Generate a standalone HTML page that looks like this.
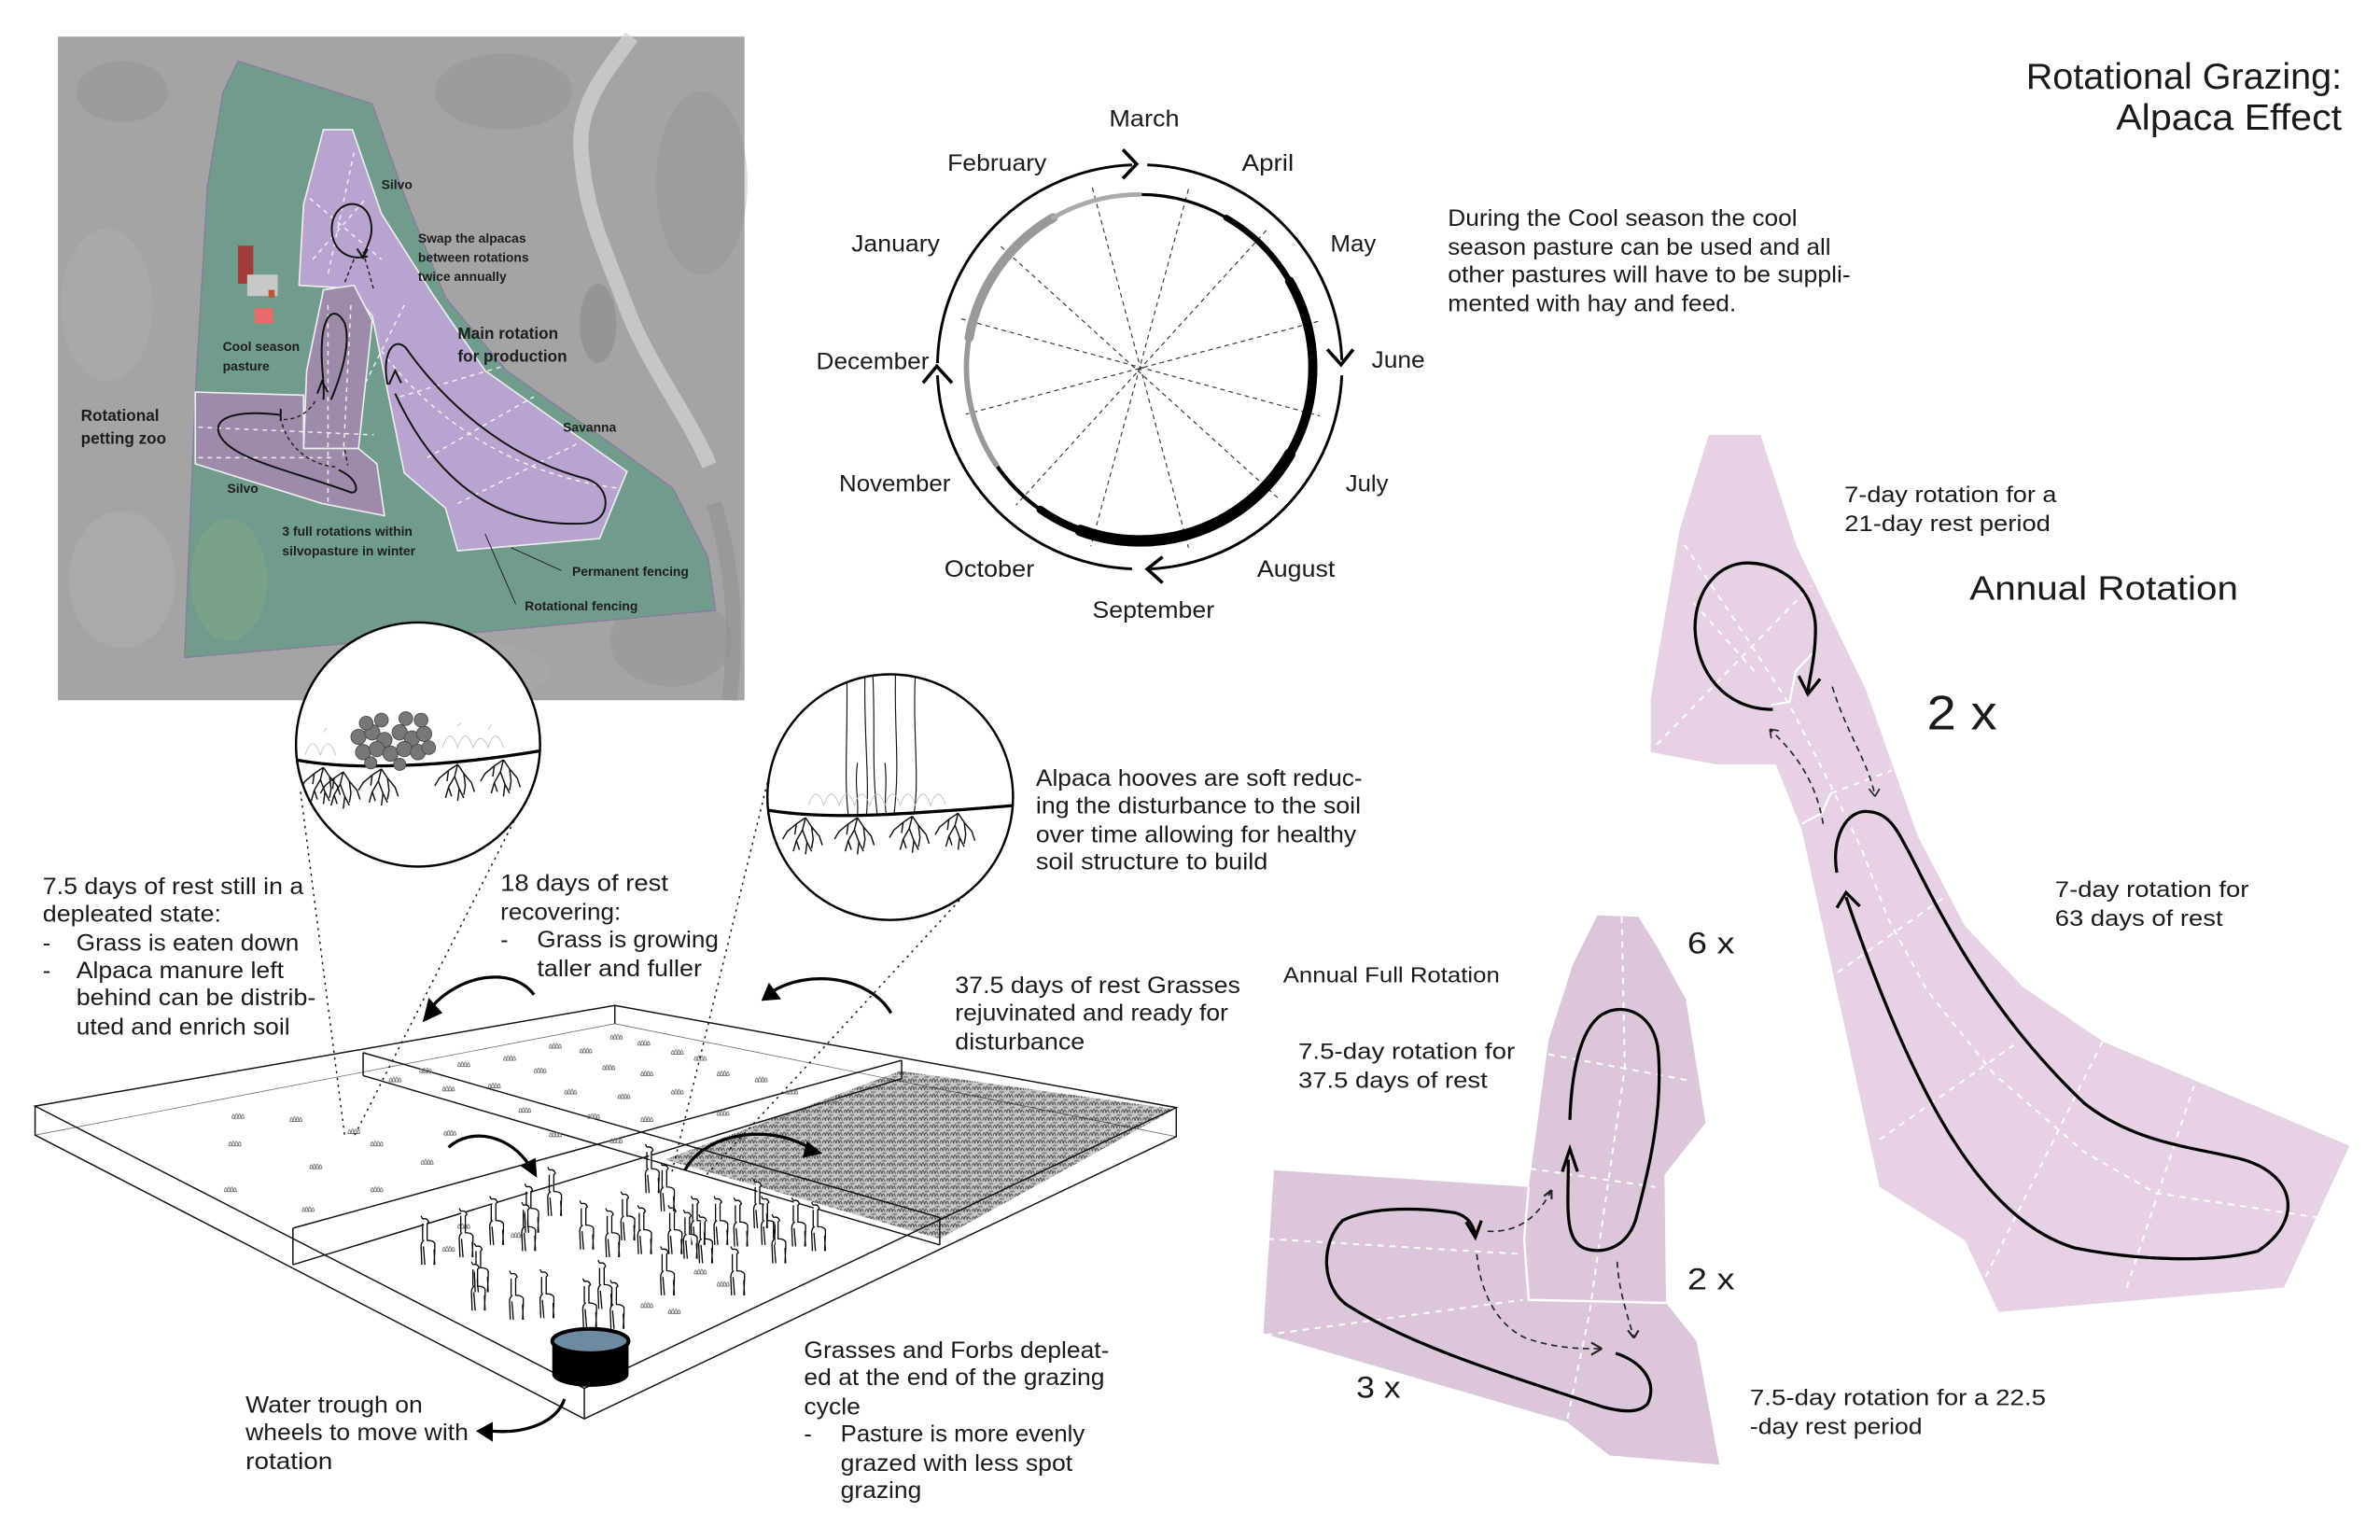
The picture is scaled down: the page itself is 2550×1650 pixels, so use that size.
<!DOCTYPE html>
<html><head><meta charset="utf-8"><style>
html,body{margin:0;padding:0;background:#fff;overflow:hidden}
svg{display:block}
.c{font-family:"Liberation Sans Narrow","Liberation Sans",sans-serif;font-size:15.5px;fill:#1a1a1a}
.r{font-family:"Liberation Sans",sans-serif;fill:#1a1a1a}
.m{font-family:"Liberation Sans",sans-serif;font-weight:bold;fill:#1d1d1d}
</style></head><body>
<svg width="2550" height="1650" viewBox="0 0 1560 1009.4" xmlns="http://www.w3.org/2000/svg">
<defs>
<g id="tf"><path d="M0 5 q1 -5 2 0 q1 -6 2 0 q1 -6 2 0 q1 -5 2 0 M0 5 h8" stroke="#777" fill="none" stroke-width="0.6"/></g>
<pattern id="dense" width="7" height="5" patternUnits="userSpaceOnUse"><rect width="7" height="5" fill="#c8c8c8"/><path d="M0 4.5 q1 -4 2 0 q1 -5 2 0 q1 -4 2 0" stroke="#444" fill="none" stroke-width="0.6"/><path d="M4 1.5 q1 -2 1.5 0 q1 -2 1.5 0" stroke="#666" fill="none" stroke-width="0.5"/></pattern>
<g id="al"><path d="M3 0 q3 -1 4 2 l-1 1 v11 q4 0 5 2 v4 l-0.5 10 M10.5 20 l0.5 10 M4 14 q-2 1 -2 4 l0.5 12 M3.5 18 l1 12 M3 0 l-1 -2 M3 3 v11" stroke="#000" stroke-width="0.8" fill="#fff"/></g>
<g id="rt"><path d="M0 0 L-2 8 L-6 15 L-8 22 M-2 8 L1 16 L0 24 M0 0 L4 6 L9 12 L11 18 M4 6 L5 14 L4 20 M0 0 L-6 4 L-12 9 L-15 14 M-6 4 L-7 11 M1 16 L4 22 M-6 15 L-4 21" stroke="#111" stroke-width="0.9" fill="none"/></g>
<clipPath id="c1"><circle cx="274" cy="488" r="80"/></clipPath>
<clipPath id="c2"><circle cx="583.5" cy="522.5" r="80.5"/></clipPath>
</defs>

<!-- AERIAL PHOTO -->
<rect x="38" y="24" width="450" height="435" fill="#a4a4a4"/>
<g opacity="0.3">
<ellipse cx="80" cy="60" rx="30" ry="20" fill="#8a8a8a"/>
<ellipse cx="330" cy="60" rx="45" ry="25" fill="#8c8c8c"/>
<ellipse cx="460" cy="120" rx="30" ry="60" fill="#8e8e8e"/>
<ellipse cx="70" cy="200" rx="30" ry="50" fill="#b6b6b6"/>
<ellipse cx="80" cy="380" rx="35" ry="45" fill="#b8b8b8"/>
<ellipse cx="440" cy="420" rx="40" ry="30" fill="#8c8c8c"/>
<ellipse cx="300" cy="440" rx="60" ry="20" fill="#b0b0b0"/>
</g>
<ellipse cx="392" cy="212" rx="12" ry="26" fill="#8c8c8c" opacity="0.6"/>
<path d="M414 24 C395 50 378 70 381 100 C384 140 395 160 410 200 C425 240 450 270 465 305" stroke="#d4d4d4" stroke-width="10" fill="none" opacity="0.7"/>
<path d="M468 330 C480 370 484 410 478 459" stroke="#8a8a8a" stroke-width="10" fill="none" opacity="0.4"/>
<polygon points="156,40 244,68 265,128 292,195 332,243 398,289 441,320 464,365 469,400 318,414 121,431 128,259 136,122 146,61" fill="#719c8c" stroke="#8a7aa0" stroke-width="0.8"/>
<ellipse cx="150" cy="380" rx="25" ry="40" fill="#8fa98a" opacity="0.4"/>
<rect x="156" y="161" width="10" height="25" fill="#a33a3a"/>
<rect x="162" y="180" width="20" height="14" fill="#c8c8c8"/>
<rect x="167" y="202" width="12" height="10" fill="#e86a6a"/>
<rect x="176" y="190" width="4" height="5" fill="#b53"/>
<polygon points="212,85 231,85 250,140 285,195 318,243 411,309 393,353 300,361 292,333 265,310 244,207 229,189 196,187 199,134" fill="#b9a3cf" stroke="#eee" stroke-width="1"/>
<polygon points="212,190 232,187 244,210 235,294 199,294 201,243" fill="#9e8ba9" stroke="#eee" stroke-width="1"/>
<polygon points="128,257 199,259 199,294 235,294 247,304 252,338 211,330 128,304" fill="#9e8ba9" stroke="#eee" stroke-width="1"/>
<g stroke="#fff" stroke-width="0.9" stroke-dasharray="3 3" fill="none" opacity="0.85">
<path d="M203 130 L250 170 M205 170 L240 130 M232 100 L215 180 M265 200 L240 250 M262 260 L330 240 M280 300 L350 260 M300 330 L380 290 M250 230 C280 270 330 310 405 320 M130 280 L245 285 M130 300 L220 300 M215 200 L215 330 M230 200 L225 300"/>
</g>
<g stroke="#111" stroke-width="1.2" fill="none">
<path d="M241 168 C225 172 215 160 218 145 C222 130 240 130 243 145 C245 155 241 160 238 168"/>
<path d="M234 163 l4 6 l3 -6"/>
<path d="M254 252 C250 232 258 220 266 228 C290 262 330 300 385 314 C402 320 400 342 384 343 C335 346 290 325 259 258"/>
<path d="M255 252 l4 -9 l4 8"/>
<path d="M217 262 C224 245 230 225 226 212 C220 200 212 205 211 225 C210 240 213 250 212 262"/>
<path d="M208 258 l3 -8 l4 7"/>
<path d="M184 272 C160 269 142 272 143 282 C146 300 190 308 228 322 C236 326 236 314 222 308"/>
<path d="M184 268 l0 8"/>
</g>
<g stroke="#222" stroke-width="0.9" stroke-dasharray="2.5 2" fill="none">
<path d="M186 275 C195 275 203 270 207 262"/>
<path d="M185 278 C190 295 205 305 220 306"/>
<path d="M226 295 L228 305 M238 165 L245 190 M232 170 L226 185"/>
</g>
<path d="M335 359 L368 374 M318 350 L338 396" stroke="#222" stroke-width="0.6"/>
<g class="m" font-size="8.5">
<text x="250" y="124">Silvo</text>
<text x="274" y="159">Swap the alpacas</text>
<text x="274" y="171.5">between rotations</text>
<text x="274" y="184">twice annually</text>
<text x="146" y="230">Cool season</text>
<text x="146" y="243">pasture</text>
<text x="369" y="283">Savanna</text>
<text x="149" y="323">Silvo</text>
<text x="185" y="351">3 full rotations within</text>
<text x="185" y="364">silvopasture in winter</text>
<text x="375" y="377.5">Permanent fencing</text>
<text x="344" y="400">Rotational fencing</text>
</g>
<g class="m" font-size="10.5">
<text x="300" y="222">Main rotation</text>
<text x="300" y="237">for production</text>
<text x="53" y="276">Rotational</text>
<text x="53" y="291">petting zoo</text>
</g>

<!-- TITLE -->
<text class="r" x="1535" y="58" font-size="24" text-anchor="end" textLength="207" lengthAdjust="spacingAndGlyphs">Rotational Grazing:</text>
<text class="r" x="1535" y="85" font-size="24" text-anchor="end" textLength="148" lengthAdjust="spacingAndGlyphs">Alpaca Effect</text>

<!-- CLOCK -->
<g stroke="#333" stroke-width="0.7" stroke-dasharray="3 2.5">
<path d="M716 123 L779 359 M779 124 L715 358 M656 161.5 L839 327.6 M830 151 L666 331 M630 209 L865 272.6 M864 210.6 L633 271.5"/>
</g>
<circle cx="747" cy="241" r="113.5" fill="none" stroke="#000" stroke-width="1"/>
<g fill="none" stroke-linecap="round">
<path d="M747 127.5 A113.5 113.5 0 0 1 803.8 142.7" stroke="#000" stroke-width="2"/>
<path d="M803.8 142.7 A113.5 113.5 0 0 1 845.3 184.3" stroke="#000" stroke-width="4"/>
<path d="M845.3 184.3 A113.5 113.5 0 0 1 845.3 297.8" stroke="#000" stroke-width="6"/>
<path d="M845.3 297.8 A113.5 113.5 0 0 1 708.2 347.7" stroke="#000" stroke-width="7.5"/>
<path d="M708.2 347.7 A113.5 113.5 0 0 1 681.9 334" stroke="#000" stroke-width="5"/>
<path d="M681.9 334 A113.5 113.5 0 0 1 652.9 304.5" stroke="#000" stroke-width="2.5"/>
<path d="M652.9 304.5 A113.5 113.5 0 0 1 635.2 221.3" stroke="#999" stroke-width="3.5"/>
<path d="M635.2 221.3 A113.5 113.5 0 0 1 690.3 142.7" stroke="#999" stroke-width="6"/>
<path d="M690.3 142.7 A113.5 113.5 0 0 1 747 127.5" stroke="#aaa" stroke-width="3"/>
</g>
<g fill="none" stroke="#000" stroke-width="1.8">
<path d="M614.5 238 A132.5 132.5 0 0 1 742 108.1"/>
<path d="M752 108.1 A132.5 132.5 0 0 1 879.5 236"/>
<path d="M879.5 246 A132.5 132.5 0 0 1 754 372.9"/>
<path d="M742 372.9 A132.5 132.5 0 0 1 614.5 246"/>
<path d="M736 98 L745 107.5 L736 117 M870 229 L879 239 L887 229 M762 365 L752 373 L762 382 M605 251 L614 240 L624 251" stroke-width="2.2"/>
</g>
<g class="c" font-size="15.5">
<text x="727" y="83" textLength="46" lengthAdjust="spacingAndGlyphs">March</text>
<text x="621" y="112" textLength="65" lengthAdjust="spacingAndGlyphs">February</text>
<text x="814" y="112" textLength="34" lengthAdjust="spacingAndGlyphs">April</text>
<text x="558" y="165" textLength="58" lengthAdjust="spacingAndGlyphs">January</text>
<text x="872" y="165" textLength="30" lengthAdjust="spacingAndGlyphs">May</text>
<text x="535" y="242" textLength="74" lengthAdjust="spacingAndGlyphs">December</text>
<text x="899" y="241" textLength="35" lengthAdjust="spacingAndGlyphs">June</text>
<text x="550" y="322" textLength="73" lengthAdjust="spacingAndGlyphs">November</text>
<text x="882" y="322" textLength="28" lengthAdjust="spacingAndGlyphs">July</text>
<text x="619" y="378" textLength="59" lengthAdjust="spacingAndGlyphs">October</text>
<text x="824" y="378" textLength="51" lengthAdjust="spacingAndGlyphs">August</text>
<text x="716" y="405" textLength="80" lengthAdjust="spacingAndGlyphs">September</text>
<text x="949" y="148" textLength="229" lengthAdjust="spacingAndGlyphs">During the Cool season the cool</text>
<text x="949" y="167" textLength="251" lengthAdjust="spacingAndGlyphs">season pasture can be used and all</text>
<text x="949" y="185" textLength="264" lengthAdjust="spacingAndGlyphs">other pastures will have to be suppli-</text>
<text x="949" y="204" textLength="189" lengthAdjust="spacingAndGlyphs">mented with hay and feed.</text>
</g>

<!-- BIG PINK SHAPE -->
<polygon points="1120,285 1154,285 1178,359 1223,452 1257,548 1288,607 1326,647 1379,683 1540,751 1497,844 1310,860 1288,813 1232,778 1181,544 1164,501 1125,501 1082,493 1082,458 1101,347" fill="#e6d1e5"/>
<g stroke="#fff" stroke-width="1.2" stroke-dasharray="4 4" fill="none">
<path d="M1104 357 L1148 423 L1173 462 L1201 517 L1220 556 L1238 603 L1263 649 L1307 704 L1366 755 L1413 782 L1519 798"/>
<path d="M1086 488 L1187 384 M1198 642 L1276 587 M1232 747 L1320 685 M1298 844 L1379 681 M1394 844 L1438 712 M1200 520 L1240 505 M1110 395 L1150 440"/>
</g>
<path d="M1161 462 L1173 460 L1177 440 L1190 426" stroke="#fff" stroke-width="1.3" fill="none"/>
<path d="M1181 540 L1194 533 L1200 520" stroke="#fff" stroke-width="1.3" fill="none"/>
<g fill="none" stroke="#000" stroke-width="2">
<path d="M1162 465 C1130 465 1112 440 1111 412 C1111 385 1128 368 1147 369 C1172 370 1190 390 1190 412 C1190 430 1186 445 1185 453"/>
<path d="M1179 443 L1185 455 L1193 445"/>
<path d="M1204 572 C1200 550 1210 530 1225 532 C1240 533 1245 548 1251 558 C1270 595 1300 660 1366 723 C1400 750 1440 752 1470 760 C1505 770 1510 800 1480 820 C1450 828 1400 826 1360 818 C1300 800 1255 720 1210 588"/>
<path d="M1204 595 L1210 585 L1219 594"/>
</g>
<g fill="none" stroke="#222" stroke-width="1" stroke-dasharray="4 3">
<path d="M1195 540 C1190 510 1175 492 1160 478"/>
<path d="M1201 450 C1210 480 1225 500 1229 522"/>
</g>
<path d="M1160 478 l6 1 M1160 478 l1 6 M1229 522 l-4 -5 M1229 522 l3 -5" stroke="#222" stroke-width="1"/>

<!-- SMALL PINK SHAPE -->
<polygon points="1047,600 1074,601 1087,622 1105,655 1118,736 1091,770 1092,854 1112,879 1127,960 1055,954 1027,932 828,874 835,767 1002,778 1015,682 1031,632" fill="#dcc6dc"/>
<g stroke="#fff" stroke-width="1.2" stroke-dasharray="4 4" fill="none">
<path d="M1063 601 L1065 700 L1047 824 L1042 860 L1027 932"/>
<path d="M1015 691 L1106 708 M1003 766 L1085 778 M831 812 L997 822 M830 875 L998 852"/>
</g>
<path d="M1002 778 L999 812 L1002 852 L1092 854" stroke="#fff" stroke-width="1.5" fill="none"/>
<g fill="none" stroke="#000" stroke-width="2">
<path d="M1029 734 C1030 705 1035 675 1050 665 C1065 656 1085 665 1087 690 C1090 730 1080 770 1072 800 C1065 820 1048 822 1038 818 C1025 812 1028 790 1028 760"/>
<path d="M1024 768 L1029 753 L1034 768"/>
<path d="M1059 887 C1075 892 1087 905 1080 920 C1075 926 1065 926 1050 922 C1000 905 930 885 884 856 C866 845 865 815 880 800 C900 790 935 792 954 795 C962 797 966 803 967 810"/>
<path d="M961 801 L967 811 L971 800"/>
</g>
<g fill="none" stroke="#222" stroke-width="1" stroke-dasharray="4 3">
<path d="M975 807 C993 808 1007 800 1017 780"/>
<path d="M968 822 C970 845 980 868 1000 877 C1020 884 1035 884 1050 884"/>
<path d="M1060 827 C1061 845 1066 860 1071 877"/>
</g>
<path d="M1017 780 l-5 4 M1017 780 l0 6 M1050 884 l-7 -4 M1050 884 l-7 4 M1071 877 l-4 -5 M1071 877 l3 -5" stroke="#222" stroke-width="1.3"/>

<!-- RIGHT TEXTS -->
<g class="r" font-size="14.5">
<text x="1209" y="329" textLength="139" lengthAdjust="spacingAndGlyphs">7-day rotation for a</text>
<text x="1209" y="348" textLength="135" lengthAdjust="spacingAndGlyphs">21-day rest period</text>
<text x="1347" y="588" textLength="127" lengthAdjust="spacingAndGlyphs">7-day rotation for</text>
<text x="1347" y="607" textLength="110" lengthAdjust="spacingAndGlyphs">63 days of rest</text>
<text x="851" y="694" textLength="142" lengthAdjust="spacingAndGlyphs">7.5-day rotation for</text>
<text x="851" y="713" textLength="124" lengthAdjust="spacingAndGlyphs">37.5 days of rest</text>
<text x="1147" y="921" textLength="194" lengthAdjust="spacingAndGlyphs">7.5-day rotation for a 22.5</text>
<text x="1147" y="940" textLength="113" lengthAdjust="spacingAndGlyphs">-day rest period</text>
</g>
<text class="r" x="1291" y="393" font-size="22" fill="#2a2a2a" textLength="176" lengthAdjust="spacingAndGlyphs">Annual Rotation</text>
<text class="r" x="1263" y="478" font-size="32" textLength="46" lengthAdjust="spacingAndGlyphs">2 x</text>
<text class="r" x="841" y="644" font-size="14" fill="#333" textLength="142" lengthAdjust="spacingAndGlyphs">Annual Full Rotation</text>
<text class="r" x="1106" y="625" font-size="20" textLength="31" lengthAdjust="spacingAndGlyphs">6 x</text>
<text class="r" x="1106" y="845" font-size="20" textLength="31" lengthAdjust="spacingAndGlyphs">2 x</text>
<text class="r" x="889" y="916" font-size="20" textLength="29" lengthAdjust="spacingAndGlyphs">3 x</text>

<!-- SLAB -->
<polygon points="590,702 770,727 616,812 436,760" fill="url(#dense)"/>
<g fill="none" stroke="#111" stroke-width="0.9">
<path d="M23 725 L403 659 L771 726 L383 910 Z"/>
<path d="M23 725 V744 L383 930 L771 745 V726 M383 910 V930 M403 659 V671"/>
<path d="M23 744 L403 671 L771 745" stroke-width="0.5" opacity="0.6"/>
<path d="M238 690 L616 798 M238 705 L616 816 M238 690 V705 M616 798 V816"/>
<path d="M591 695 L192 805 M591 707 L192 829 M591 695 V707 M192 805 V829"/>
</g>
<g>
<use href="#tf" x="152" y="728"/><use href="#tf" x="190" y="730"/><use href="#tf" x="228" y="738"/><use href="#tf" x="150" y="746"/><use href="#tf" x="243" y="746"/><use href="#tf" x="291" y="739"/><use href="#tf" x="203" y="761"/><use href="#tf" x="276" y="758"/><use href="#tf" x="147" y="776"/><use href="#tf" x="243" y="776"/><use href="#tf" x="198" y="789"/>
<use href="#tf" x="400" y="676"/><use href="#tf" x="418" y="680"/><use href="#tf" x="360" y="682"/><use href="#tf" x="380" y="685"/><use href="#tf" x="440" y="686"/><use href="#tf" x="455" y="690"/><use href="#tf" x="330" y="690"/><use href="#tf" x="300" y="694"/><use href="#tf" x="275" y="698"/><use href="#tf" x="350" y="698"/><use href="#tf" x="395" y="696"/><use href="#tf" x="420" y="700"/><use href="#tf" x="470" y="700"/><use href="#tf" x="495" y="704"/><use href="#tf" x="255" y="704"/><use href="#tf" x="290" y="710"/><use href="#tf" x="320" y="708"/><use href="#tf" x="370" y="712"/><use href="#tf" x="405" y="715"/><use href="#tf" x="440" y="712"/><use href="#tf" x="515" y="712"/><use href="#tf" x="540" y="718"/><use href="#tf" x="340" y="724"/><use href="#tf" x="385" y="728"/><use href="#tf" x="420" y="730"/><use href="#tf" x="470" y="726"/><use href="#tf" x="360" y="740"/><use href="#tf" x="400" y="744"/><use href="#tf" x="480" y="742"/><use href="#tf" x="300" y="800"/><use href="#tf" x="290" y="815"/><use href="#tf" x="420" y="852"/><use href="#tf" x="438" y="856"/><use href="#tf" x="455" y="830"/><use href="#tf" x="470" y="838"/><use href="#tf" x="335" y="806"/>
</g>
<g>
<use href="#al" x="357" y="767"/><use href="#al" x="342" y="778"/><use href="#al" x="319" y="786"/><use href="#al" x="299" y="794"/><use href="#al" x="274" y="799"/><use href="#al" x="378" y="789"/><use href="#al" x="395" y="794"/><use href="#al" x="405" y="783"/><use href="#al" x="416" y="792"/><use href="#al" x="436" y="792"/><use href="#al" x="421" y="752"/><use href="#al" x="431" y="764"/><use href="#al" x="451" y="786"/><use href="#al" x="466" y="786"/><use href="#al" x="479" y="787"/><use href="#al" x="492" y="775"/><use href="#al" x="497" y="786"/><use href="#al" x="517" y="787"/><use href="#al" x="530" y="790"/><use href="#al" x="456" y="798"/><use href="#al" x="504" y="798"/><use href="#al" x="309" y="817"/><use href="#al" x="307" y="829"/><use href="#al" x="332" y="835"/><use href="#al" x="352" y="834"/><use href="#al" x="380" y="840"/><use href="#al" x="390" y="828"/><use href="#al" x="398" y="841"/><use href="#al" x="431" y="819"/><use href="#al" x="477" y="819"/><use href="#al" x="340" y="790"/><use href="#al" x="446" y="795"/>
</g>
<!-- water trough -->
<rect x="362" y="879" width="50" height="22" fill="#000"/>
<ellipse cx="387" cy="901" rx="25" ry="8" fill="#000"/>
<ellipse cx="387" cy="879" rx="25" ry="8" fill="#6e8aa0" stroke="#000" stroke-width="2.5"/>
<!-- curved arrows -->
<g fill="none" stroke="#000" stroke-width="2">
<path d="M350 652 C335 632 300 640 283 660"/>
<path d="M584 664 C570 640 530 635 506 650"/>
<path d="M294 752 C310 738 335 745 347 764"/>
<path d="M449 767 C460 745 500 735 530 752"/>
<path d="M370 917 C365 932 345 940 322 938"/>
</g>
<g fill="#000">
<path d="M277 670 L281 654 L290 664 Z"/>
<path d="M499 656 L504 644 L512 655 Z"/>
<path d="M352 772 L341 764 L351 759 Z"/>
<path d="M539 756 L526 759 L529 748 Z"/>
<path d="M312 938 L323 932 L323 945 Z"/>
</g>
<!-- dotted leaders -->
<g stroke="#111" stroke-width="0.9" stroke-dasharray="1.5 3" fill="none">
<path d="M197 519 L226 745 M337 538 L232 745 M503 513 L440 770 M629 590 L463 770"/>
</g>

<!-- CIRCLES -->
<circle cx="274" cy="488" r="80" fill="#fff" stroke="#000" stroke-width="1.5"/>
<g clip-path="url(#c1)">
<path d="M194 498 C230 505 290 503 355 492" stroke="#000" stroke-width="2" fill="none"/>
<g stroke="#bbb" stroke-width="0.5" fill="none"><path d="M200 495 q5 -15 10 0 q5 -15 10 0 M290 490 q5 -15 10 0 q5 -15 10 0 q5 -12 10 0 q5 -15 10 0 M212 480 l2 -3 M300 476 l2 -2 M320 478 l2 -3"/></g>
<g fill="#777" stroke="#444" stroke-width="0.5">
<circle cx="235" cy="483" r="5"/><circle cx="244" cy="480" r="5"/><circle cx="252" cy="485" r="5"/><circle cx="262" cy="480" r="5"/><circle cx="270" cy="484" r="5"/><circle cx="278" cy="481" r="5"/>
<circle cx="238" cy="493" r="5"/><circle cx="247" cy="491" r="5"/><circle cx="256" cy="494" r="5"/><circle cx="265" cy="491" r="5"/><circle cx="274" cy="493" r="5"/><circle cx="281" cy="490" r="4.5"/>
<circle cx="240" cy="474" r="4.5"/><circle cx="250" cy="472" r="4.5"/><circle cx="266" cy="471" r="4.5"/><circle cx="276" cy="472" r="4.5"/><circle cx="243" cy="500" r="4"/><circle cx="262" cy="501" r="4"/>
</g>
<use href="#rt" x="212" y="503"/><use href="#rt" x="250" y="504"/><use href="#rt" x="300" y="501"/><use href="#rt" x="330" y="498"/><use href="#rt" x="225" y="506"/>
</g>
<circle cx="583.5" cy="522.5" r="80.5" fill="none" stroke="#000" stroke-width="1.5"/>
<g clip-path="url(#c2)">
<path d="M503 531 C540 537 580 535 664 528" stroke="#000" stroke-width="2" fill="none"/>
<g stroke="#111" stroke-width="0.7" fill="none">
<path d="M555 440 C556 480 553 510 556 534 M567 440 C566 480 570 510 568 534 M572 440 C574 480 571 500 575 534 M587 440 C586 480 590 500 586 534 M600 440 C598 480 603 510 599 534 M562 500 C560 515 563 525 562 534 M580 500 C582 515 579 525 581 534"/>
</g>
<g stroke="#bbb" stroke-width="0.5" fill="none"><path d="M530 528 q5 -15 10 0 q5 -15 10 0 q5 -15 10 0 q5 -15 10 0 q5 -15 10 0 q5 -15 10 0 q5 -15 10 0 q5 -15 10 0 q5 -15 10 0"/></g>
<use href="#rt" x="528" y="536"/><use href="#rt" x="562" y="536"/><use href="#rt" x="598" y="535"/><use href="#rt" x="628" y="533"/>
</g>

<!-- BOTTOM TEXTS -->
<g class="c">
<text x="28" y="586" textLength="171" lengthAdjust="spacingAndGlyphs">7.5 days of rest still in a</text>
<text x="28" y="604" textLength="117" lengthAdjust="spacingAndGlyphs">depleated state:</text>
<text x="28" y="623">-</text>
<text x="50" y="623" textLength="146" lengthAdjust="spacingAndGlyphs">Grass is eaten down</text>
<text x="28" y="641">-</text>
<text x="50" y="641" textLength="136" lengthAdjust="spacingAndGlyphs">Alpaca manure left</text>
<text x="50" y="659" textLength="157" lengthAdjust="spacingAndGlyphs">behind can be distrib-</text>
<text x="50" y="678" textLength="140" lengthAdjust="spacingAndGlyphs">uted and enrich soil</text>
<text x="328" y="584" textLength="110" lengthAdjust="spacingAndGlyphs">18 days of rest</text>
<text x="328" y="603" textLength="79" lengthAdjust="spacingAndGlyphs">recovering:</text>
<text x="328" y="621">-</text>
<text x="352" y="621" textLength="119" lengthAdjust="spacingAndGlyphs">Grass is growing</text>
<text x="352" y="640" textLength="108" lengthAdjust="spacingAndGlyphs">taller and fuller</text>
<text x="679" y="515" textLength="214" lengthAdjust="spacingAndGlyphs">Alpaca hooves are soft reduc-</text>
<text x="679" y="533" textLength="213" lengthAdjust="spacingAndGlyphs">ing the disturbance to the soil</text>
<text x="679" y="552" textLength="210" lengthAdjust="spacingAndGlyphs">over time allowing for healthy</text>
<text x="679" y="570" textLength="152" lengthAdjust="spacingAndGlyphs">soil structure to build</text>
<text x="626" y="651" textLength="187" lengthAdjust="spacingAndGlyphs">37.5 days of rest Grasses</text>
<text x="626" y="669" textLength="179" lengthAdjust="spacingAndGlyphs">rejuvinated and ready for</text>
<text x="626" y="688" textLength="85" lengthAdjust="spacingAndGlyphs">disturbance</text>
<text x="161" y="926" textLength="116" lengthAdjust="spacingAndGlyphs">Water trough on</text>
<text x="161" y="944" textLength="146" lengthAdjust="spacingAndGlyphs">wheels to move with</text>
<text x="161" y="963" textLength="57" lengthAdjust="spacingAndGlyphs">rotation</text>
<text x="527" y="890" textLength="200" lengthAdjust="spacingAndGlyphs">Grasses and Forbs depleat-</text>
<text x="527" y="908" textLength="197" lengthAdjust="spacingAndGlyphs">ed at the end of the grazing</text>
<text x="527" y="927" textLength="37" lengthAdjust="spacingAndGlyphs">cycle</text>
<text x="527" y="945">-</text>
<text x="551" y="945" textLength="160" lengthAdjust="spacingAndGlyphs">Pasture is more evenly</text>
<text x="551" y="964" textLength="152" lengthAdjust="spacingAndGlyphs">grazed with less spot</text>
<text x="551" y="982" textLength="53" lengthAdjust="spacingAndGlyphs">grazing</text>
</g>
</svg>
</body></html>
